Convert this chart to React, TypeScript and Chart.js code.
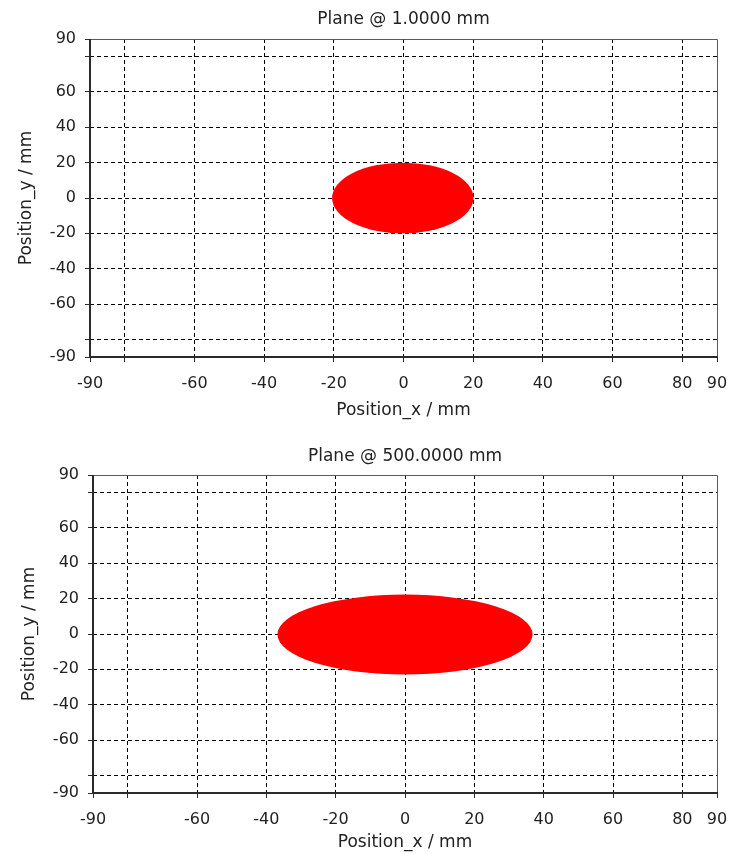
import React, { useEffect, useRef } from 'react';
import { Chart, registerables } from 'chart.js';

Chart.register(...registerables);

// ---- data ----
const planeTitles = ['Plane @ 1.0000 mm', 'Plane @ 500.0000 mm'];
const beamCenterX = [-0.2, 0];
const beamCenterY = [0, -0.3];
const beamRadiusX = [20.3, 36.8];
const beamRadiusY = [20.0, 22.6];
const axisMin = -90;
const axisMax = 90;
const xTickValues = [-90, -80, -60, -40, -20, 0, 20, 40, 60, 80, 90];
const xTickLabels = ['-90', '', '-60', '-40', '-20', '0', '20', '40', '60', '80', '90'];
const yTickValues = [-90, -80, -60, -40, -20, 0, 20, 40, 60, 80, 90];
const yTickLabels = ['-90', '', '-60', '-40', '-20', '0', '20', '40', '60', '', '90'];
const xAxisTitle = 'Position_x / mm';
const yAxisTitle = 'Position_y / mm';

// ---- layout (not data) ----
const panels = [
  { top: 0, height: 436, plotLeft: 90, plotTop: 39, plotBottom: 357, titlePad: 9, xTitlePad: 15, yTitlePad: 16 },
  { top: 436, height: 418, plotLeft: 93, plotTop: 39, plotBottom: 357, titlePad: 10, xTitlePad: 1, yTitlePad: 19 },
];
const WIDTH = 732;
const PLOT_RIGHT = 717;
const FONT = "'DejaVu Sans', sans-serif";
const TEXT_COLOR = '#222222';

const beamPlugin = {
  id: 'beamSpot',
  beforeDatasetsDraw(chart: any, _args: any, opts: any) {
    const { ctx, chartArea, scales } = chart;
    const i = opts.index;
    const xs = scales.x;
    const ys = scales.y;
    const cx = xs.getPixelForValue(beamCenterX[i]);
    const cy = ys.getPixelForValue(beamCenterY[i]);
    const rx = Math.abs(xs.getPixelForValue(beamCenterX[i] + beamRadiusX[i]) - cx);
    const ry = Math.abs(ys.getPixelForValue(beamCenterY[i] + beamRadiusY[i]) - cy);
    ctx.save();
    ctx.beginPath();
    ctx.rect(chartArea.left, chartArea.top, chartArea.right - chartArea.left, chartArea.bottom - chartArea.top);
    ctx.clip();
    ctx.beginPath();
    ctx.ellipse(cx, cy, rx, ry, 0, 0, Math.PI * 2);
    ctx.fillStyle = '#ff0000';
    ctx.fill();
    ctx.restore();
  },
  afterDraw(chart: any) {
    const { ctx, chartArea } = chart;
    const { left, right, top, bottom } = chartArea;
    ctx.save();
    ctx.strokeStyle = '#5a5a5a';
    ctx.lineWidth = 1;
    ctx.beginPath();
    ctx.moveTo(left, top + 0.5);
    ctx.lineTo(right + 0.5, top + 0.5);
    ctx.lineTo(right + 0.5, bottom);
    ctx.stroke();
    ctx.strokeStyle = '#2a2a2a';
    ctx.lineWidth = 2;
    ctx.beginPath();
    ctx.moveTo(left, top);
    ctx.lineTo(left, bottom);
    ctx.lineTo(right + 1, bottom);
    ctx.stroke();
    ctx.restore();
  },
};

function PlaneChart({ index }: { index: number }) {
  const ref = useRef<HTMLCanvasElement | null>(null);
  const p = panels[index];
  useEffect(() => {
    if (!ref.current) return;
    const edge = (v: number) => v === axisMin || v === axisMax;
    const chart = new Chart(ref.current, {
      type: 'scatter',
      data: {
        datasets: [
          {
            label: planeTitles[index],
            data: [{ x: beamCenterX[index], y: beamCenterY[index] }],
            pointRadius: 0,
            showLine: false,
          },
        ],
      },
      plugins: [beamPlugin],
      options: {
        responsive: false,
        animation: false,
        events: [],
        layout: { padding: { left: 0, right: WIDTH - PLOT_RIGHT, top: 0, bottom: 0 } },
        plugins: {
          legend: { display: false },
          tooltip: { enabled: false },
          title: { display: false },
          beamSpot: { index },
        } as any,
        scales: {
          x: {
            type: 'linear',
            position: 'bottom',
            min: axisMin,
            max: axisMax,
            afterBuildTicks: (s: any) => {
              s.ticks = xTickValues.map((v) => ({ value: v }));
            },
            afterFit: (s: any) => {
              s.height = p.height - p.plotBottom;
              s.paddingLeft = 0;
              s.paddingRight = 0;
            },
            ticks: {
              autoSkip: false,
              maxRotation: 0,
              padding: 12,
              color: TEXT_COLOR,
              font: { family: FONT, size: 16 },
              callback: (v: any) => {
                const k = xTickValues.indexOf(Number(v));
                return k >= 0 ? xTickLabels[k] : '';
              },
            },
            grid: {
              color: (c: any) => (c.tick && edge(c.tick.value) ? 'rgba(0,0,0,0)' : '#000000'),
              lineWidth: 1,
              tickLength: 5,
              tickColor: '#2a2a2a',
              tickWidth: 1,
              tickBorderDash: [],
            },
            border: { display: false, dash: [4, 3] },
            title: {
              display: true,
              text: xAxisTitle,
              color: TEXT_COLOR,
              font: { family: FONT, size: 17 },
              padding: { top: 0, bottom: p.xTitlePad },
            },
          },
          x2: {
            type: 'linear',
            position: 'top',
            min: axisMin,
            max: axisMax,
            afterFit: (s: any) => {
              s.height = p.plotTop;
              s.paddingLeft = 0;
              s.paddingRight = 0;
            },
            ticks: { display: false },
            grid: { display: false, drawTicks: false },
            border: { display: false },
            title: {
              display: true,
              text: planeTitles[index],
              color: TEXT_COLOR,
              font: { family: FONT, size: 17 },
              padding: { top: p.titlePad, bottom: 0 },
            },
          },
          y: {
            type: 'linear',
            position: 'left',
            min: axisMin,
            max: axisMax,
            afterBuildTicks: (s: any) => {
              s.ticks = yTickValues.map((v) => ({ value: v }));
            },
            afterFit: (s: any) => {
              s.width = p.plotLeft;
              s.paddingTop = 0;
              s.paddingBottom = 0;
            },
            ticks: {
              autoSkip: false,
              padding: 9,
              color: TEXT_COLOR,
              font: { family: FONT, size: 16 },
              callback: (v: any) => {
                const k = yTickValues.indexOf(Number(v));
                return k >= 0 ? yTickLabels[k] : '';
              },
            },
            grid: {
              color: (c: any) => (c.tick && edge(c.tick.value) ? 'rgba(0,0,0,0)' : '#000000'),
              lineWidth: 1,
              tickLength: 5,
              tickColor: '#2a2a2a',
              tickWidth: 1,
              tickBorderDash: [],
            },
            border: { display: false, dash: [4, 3] },
            title: {
              display: true,
              text: yAxisTitle,
              color: TEXT_COLOR,
              font: { family: FONT, size: 17 },
              padding: { top: p.yTitlePad, bottom: 0 },
            },
          },
        },
      } as any,
    });
    return () => chart.destroy();
  }, [index]);
  return (
    <canvas
      ref={ref}
      width={WIDTH}
      height={p.height}
      style={{ position: 'absolute', left: 0, top: p.top, width: WIDTH, height: p.height, display: 'block' }}
    />
  );
}

export default function App() {
  return (
    <div style={{ position: 'absolute', left: 0, top: 0, width: WIDTH, height: 854, background: '#ffffff', overflow: 'hidden' }}>
      <PlaneChart index={0} />
      <PlaneChart index={1} />
    </div>
  );
}
